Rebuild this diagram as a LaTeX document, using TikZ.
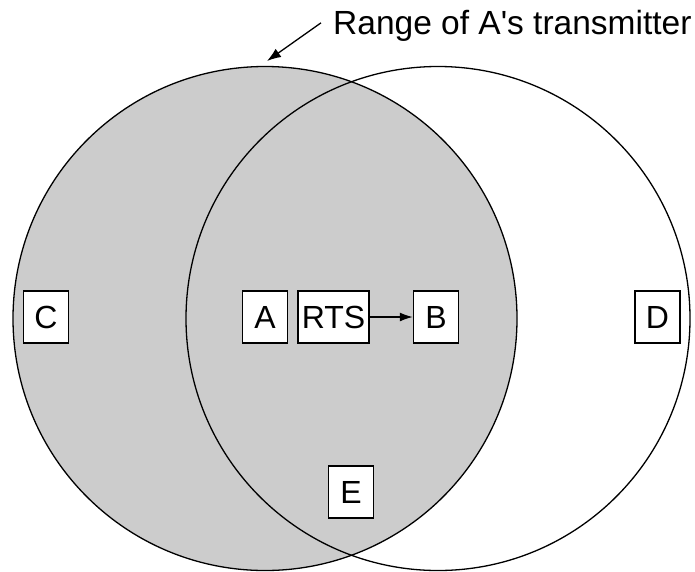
\documentclass[tikz,border=0pt]{standalone}
\usepackage{fontspec}
\setmainfont{Liberation Sans}
\newfontfamily\titlefont{Liberation Sans}
\usetikzlibrary{arrows.meta}
\definecolor{rangegray}{RGB}{204,204,204}
\tikzset{
  station/.style={draw=black, line width=1.5pt, fill=white, minimum height=52pt, minimum width=45pt, inner sep=0pt, font=\fontsize{32}{36}\selectfont},
  rangecircle/.style={draw=black, line width=1.3pt},
}
\begin{document}
\begin{tikzpicture}[x=1pt,y=-1pt]
\useasboundingbox (0,0) rectangle (695,571);
\fill[rangegray] (265,318.5) circle[radius=252];
\draw[rangecircle] (265,318.5) circle[radius=252];
\draw[rangecircle] (438,318.5) circle[radius=252];
\node[station] (C) at (46,317) {C};
\node[station] (A) at (265,317) {A};
\node[station, minimum width=71pt] (RTS) at (333.5,317) {RTS};
\node[station] (B) at (436,317) {B};
\node[station] (D) at (657.5,317) {D};
\node[station] (E) at (351,492) {E};
\draw[line width=1.3pt, -{Latex[length=13pt,width=9pt]}] (RTS.east) -- (B.west);
\node[anchor=base west, inner sep=0pt, font=\titlefont\fontsize{33.5}{38}\selectfont] (label) at (333,34.5) {Range of A's transmitter};
\coordinate (tip) at (267,61);
\draw[line width=1.3pt, -{Latex[length=14pt,width=10pt]}] ([xshift=-12pt,yshift=3pt]label.west) -- (tip);
\end{tikzpicture}
\end{document}
